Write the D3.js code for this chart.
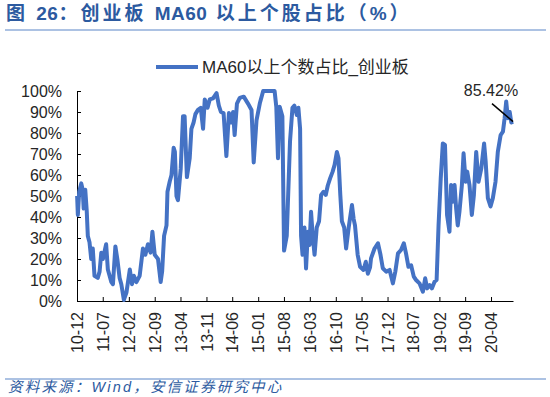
<!DOCTYPE html>
<html>
<head>
<meta charset="utf-8">
<script src="https://cdn.jsdelivr.net/npm/d3@7"></script>
<style>
  body { margin: 0; background: #fff; }
  svg { font-family: "Liberation Sans", Arial, "Noto Sans CJK SC", sans-serif; }
</style>
</head>
<body>
<svg id="chart" width="550" height="397"></svg>
<script>
// MA60 以上个股占比，创业板
const dates = [
  "2010-12-02","2010-12-08","2010-12-19",
  "2011-01-05","2011-01-17","2011-01-25","2011-02-07","2011-02-19","2011-02-28","2011-03-14","2011-03-28","2011-04-10","2011-04-24","2011-05-21","2011-06-05","2011-06-19","2011-07-02","2011-07-29","2011-08-12","2011-09-10","2011-09-23","2011-10-13","2011-10-29","2011-11-17","2011-12-01","2011-12-22",
  "2012-01-12","2012-02-09","2012-02-27","2012-03-13","2012-04-03","2012-04-30","2012-05-27","2012-06-16","2012-07-07","2012-07-29","2012-08-13","2012-09-01","2012-09-28","2012-10-20","2012-11-01","2012-11-17","2012-12-07","2012-12-15",
  "2013-01-03","2013-01-17","2013-02-04","2013-02-14","2013-02-27","2013-03-11","2013-04-03","2013-04-22","2013-05-05","2013-05-24","2013-06-16","2013-06-30","2013-07-18","2013-08-02","2013-08-23","2013-09-15","2013-10-04","2013-10-18","2013-11-10","2013-11-28","2013-12-25",
  "2014-01-23","2014-02-11","2014-02-28","2014-03-22","2014-04-14","2014-05-05","2014-05-25","2014-06-08","2014-06-21","2014-07-10","2014-08-02","2014-09-04","2014-10-09","2014-11-07","2014-11-25","2014-12-18",
  "2015-01-14","2015-02-11","2015-05-16","2015-05-30","2015-06-13","2015-06-27","2015-07-19","2015-08-02","2015-08-24","2015-09-20","2015-10-10","2015-10-26","2015-11-15","2015-11-28","2015-12-12","2015-12-20",
  "2016-01-01","2016-01-17","2016-01-30","2016-02-14","2016-02-28","2016-03-11","2016-03-25","2016-04-09","2016-04-27","2016-05-16","2016-06-02","2016-06-22","2016-07-10","2016-07-27","2016-08-15","2016-09-05","2016-09-21","2016-10-10","2016-10-23","2016-11-07","2016-11-20","2016-12-09","2016-12-25",
  "2017-01-15","2017-02-11","2017-02-25","2017-03-08","2017-03-30","2017-04-19","2017-05-17","2017-06-05","2017-06-22","2017-07-10","2017-07-18","2017-08-16","2017-09-13","2017-10-04","2017-10-23","2017-11-20","2017-12-18",
  "2018-01-14","2018-02-03","2018-02-25","2018-03-22","2018-04-14","2018-05-02","2018-05-22","2018-06-13","2018-07-05","2018-07-24","2018-08-21","2018-09-18","2018-10-07","2018-10-23","2018-11-13","2018-12-01","2018-12-23",
  "2019-01-09","2019-01-25","2019-02-12","2019-03-01","2019-03-19","2019-04-05","2019-04-25","2019-05-08","2019-05-22","2019-06-06","2019-06-19","2019-07-02","2019-07-16","2019-08-05","2019-08-19","2019-09-05","2019-09-18","2019-10-07","2019-10-26","2019-11-12","2019-12-01","2019-12-20",
  "2020-01-12","2020-02-04","2020-02-17","2020-03-06","2020-03-28","2020-04-16","2020-05-08","2020-05-27","2020-06-19","2020-07-08","2020-07-22","2020-08-04","2020-08-18","2020-09-02","2020-09-15","2020-09-29"
];
const values = [
  50,41,52,
  56,53,44,53,43,31,28,20,25,12,11,14,23,20,27,15,9,8,26,20,11,8,0.5,
  4,15,8,12,9,12,25,22,27,23,33,22,20,9,14,31,36,52,
  57,60,73,71,50,48,63,88,88,59,68,82,85,89,91,92,82,96,92,96,96.5,
  99,93,90,89.5,69,89.5,85,90,79,94,96.7,97.3,94,91,66,86,
  94,100,100,92.5,68,92.5,88,24,31,76,92,93,88.6,92,82,31,
  22,35,15.5,33,26.7,42.5,31,22,35,38,50.5,52,50.5,55,58.4,61.6,64.8,71,68,50.5,38,35,25,
  35,45.7,39,36,22,16.3,14.8,18.7,13,16,20.3,25,27.5,22,15.6,14,14.8,
  8.4,14,22.7,24.3,27.5,22.7,16.3,17,11.6,10,8.4,4.4,10.8,6,7.6,6,9.2,
  10,36,58.4,75,74.3,41,33,55.2,47.3,55.2,44,36,42.5,55.2,70.3,56.8,61.6,55.2,41,50.5,71,56.8,
  63.2,75,66.3,49,45,49,56.8,71,79,80.6,87,95,87,90,85,85.42
];
const xTickLabels = ["10-12","11-07","12-02","12-09","13-04","13-11","14-06","15-01","15-08","16-03","16-10","17-05","17-12","18-07","19-02","19-09","20-04"];
const yTicks = [0,10,20,30,40,50,60,70,80,90,100];
const seriesName = "MA60以上个数占比_创业板";
const lastLabel = "85.42%";

const lineColor = "#4472c4";
const parseDay = d3.timeParse("%Y-%m-%d");
const parseTick = d3.timeParse("%y-%m");

const data = dates.map((d, i) => ({ date: parseDay(d), value: values[i] }));

const svg = d3.select("#chart");
const margin = { top: 91, left: 77, right: 37, bottom: 96 };
const innerWidth = 550 - margin.left - margin.right,
  innerHeight = 397 - margin.top - margin.bottom;

// title + rule
const title = svg.append("text")
  .attr("x", 6)
  .attr("y", 20)
  .attr("font-size", 19)
  .attr("font-weight", "bold")
  .attr("fill", "#2c5aa0")
  .attr("font-family", "'Liberation Sans', 'Noto Sans CJK SC', sans-serif");
// wide spacing on the CJK part only, latin stays tight
[["图 ", 3], ["26", 0.5], ["：创业板 ", 3], ["MA60", 0.5], [" 以上个股占比（%）", 3]].forEach(([t, ls]) => {
  title.append("tspan").attr("letter-spacing", ls).text(t);
});

svg.append("line")
  .attr("x1", 5).attr("x2", 546)
  .attr("y1", 30).attr("y2", 30)
  .attr("stroke", "#5b86c8")
  .attr("stroke-width", 1.2);

// legend
svg.append("line")
  .attr("x1", 156).attr("x2", 198)
  .attr("y1", 67).attr("y2", 67)
  .attr("stroke", lineColor)
  .attr("stroke-width", 4);

svg.append("text")
  .attr("x", 202)
  .attr("y", 73)
  .attr("font-size", 17)
  .attr("fill", "#262626")
  .text(seriesName);

const g = svg.append("g")
  .attr("transform", `translate(${margin.left},${margin.top})`);

const x = d3.scaleTime()
  .domain([parseTick("10-12"), data[data.length - 1].date])
  .range([0, innerWidth]);

const y = d3.scaleLinear()
  .domain([0, 100])
  .range([innerHeight, 0]);

// y axis
g.append("g")
  .call(d3.axisLeft(y).tickValues(yTicks).tickFormat(d => d + "%").tickSize(-4).tickSizeOuter(0).tickPadding(15))
  .call(a => a.selectAll("text").attr("font-size", 16).attr("fill", "#262626").attr("font-family", "'Liberation Sans', Arial, sans-serif"))
  .call(a => a.selectAll("line, path").attr("stroke", "#000"));

// x axis
g.append("g")
  .attr("transform", `translate(0,${innerHeight})`)
  .call(d3.axisBottom(x).tickValues(xTickLabels.map(parseTick)).tickFormat(d3.timeFormat("%y-%m")).tickSize(-4).tickSizeOuter(0))
  .call(a => a.selectAll("line, path").attr("stroke", "#000"))
  .selectAll("text")
  .attr("font-size", 16)
  .attr("fill", "#262626")
  .attr("font-family", "'Liberation Sans', Arial, sans-serif")
  .attr("transform", "rotate(-90)")
  .attr("x", -11)
  .attr("y", 0)
  .attr("dy", "0.35em")
  .style("text-anchor", "end");

const line = d3.line()
  .x(d => x(d.date))
  .y(d => y(d.value));

g.append("path")
  .datum(data)
  .attr("fill", "none")
  .attr("stroke", lineColor)
  .attr("stroke-width", 4)
  .attr("stroke-linejoin", "round")
  .attr("d", line);

// last value callout
const last = data[data.length - 1];
g.append("line")
  .attr("x1", x(last.date) - 21).attr("y1", y(last.value) - 18)
  .attr("x2", x(last.date)).attr("y2", y(last.value))
  .attr("stroke", "#000")
  .attr("stroke-width", 1.5);

g.append("text")
  .attr("x", x(last.date) - 22)
  .attr("y", y(last.value) - 26)
  .attr("text-anchor", "middle")
  .attr("font-size", 16)
  .attr("fill", "#262626")
  .text(lastLabel);

// source
svg.append("line")
  .attr("x1", 5).attr("x2", 546)
  .attr("y1", 379).attr("y2", 379)
  .attr("stroke", "#5b86c8")
  .attr("stroke-width", 1.2);

svg.append("text")
  .attr("x", 8)
  .attr("y", 392)
  .attr("font-size", 14.5)
  .attr("font-style", "italic")
  .attr("letter-spacing", 2.2)
  .attr("fill", "#2c5aa0")
  .text("资料来源：Wind，安信证券研究中心");
</script>
</body>
</html>
